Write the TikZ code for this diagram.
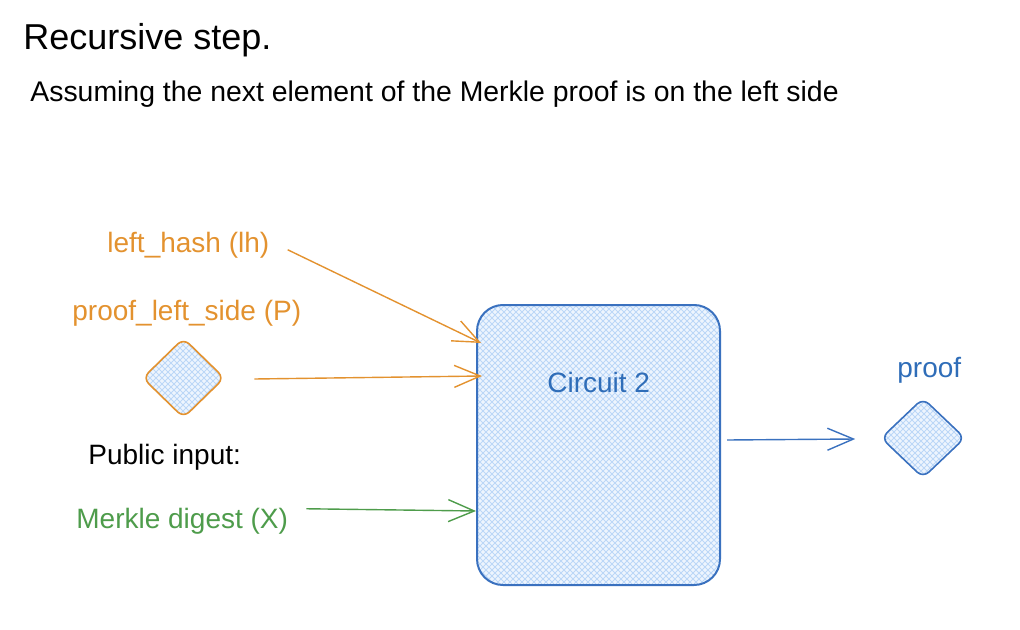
\documentclass[tikz,border=0pt]{standalone}
\usepackage{fontspec}
\setmainfont{Liberation Sans}
\usetikzlibrary{shapes.geometric,arrows.meta,patterns,calc}
\definecolor{inorange}{HTML}{E3922F}
\definecolor{ingreen}{HTML}{4E9C4B}
\definecolor{boxblue}{HTML}{3A71BF}
\definecolor{textblue}{HTML}{2F6DB8}
\definecolor{hatchbase}{HTML}{EEF5FE}
\definecolor{hatchline}{HTML}{BCD7F7}
\tikzset{
  lbl/.style={inner sep=0pt, anchor=base west, font=\fontsize{14}{17}\selectfont},
  hatched/.style={preaction={fill=hatchbase},
    preaction={pattern=north east lines, pattern color=hatchline},
    preaction={pattern=north west lines, pattern color=hatchline}},
  gem/.style={diamond, hatched, line width=0.8pt, inner sep=0pt, rounded corners=4pt},
  flow/.style={line width=0.7pt, -{Straight Barb[length=13pt,width=11pt]}},
}
\begin{document}
\begin{tikzpicture}
[x=0.5pt, y=-0.5pt]
\useasboundingbox (0,0) rectangle (1020,630);
\node [inner sep=0pt, anchor=base west, font=\fontsize{18}{22}\selectfont] (title) at (23,50) {Recursive step.};
\node [lbl, font=\fontsize{14.2}{17}\selectfont] (sub) at (30,102) {Assuming the next element of the Merkle proof is on the left side};
\node [lbl, text=inorange] (lh) at (107,253) {left\_hash (lh)};
\node [lbl, text=inorange] (pls) at (72,320) {proof\_left\_side (P)};
\node [gem, draw=inorange, minimum width=41pt, minimum height=40pt] (pdia) at (183.5,378) {};
\node [lbl] (pub) at (88,464) {Public input:};
\node [lbl, text=ingreen] (md) at (76,528) {Merkle digest (X)};
\node [hatched, draw=boxblue, line width=1pt, rounded corners=13pt, minimum width=121.5pt, minimum height=140pt] (circ) at (598.5,445) {};
\node [lbl, text=textblue] (circlbl) at (547,392) {Circuit 2};
\node [lbl, text=textblue] (prf) at (897,377) {proof};
\node [gem, draw=boxblue, minimum width=42pt, minimum height=40pt] (odia) at (923,438) {};
\draw [flow, inorange] ($(lh.east)+(18,4)$) -- ($(circ.north west)+(5,39)$);
\draw [flow, inorange] ($(pdia.east)+(29,1)$) -- ($(circ.north west)+(6,72)$);
\draw [flow, ingreen] ($(md.east)+(18,-12)$) -- ($(circ.north west)+(0,207)$);
\draw [flow, boxblue] ($(circ.east)+(6,-5)$) -- ($(odia.west)+(-25,1)$);
\end{tikzpicture}
\end{document}
